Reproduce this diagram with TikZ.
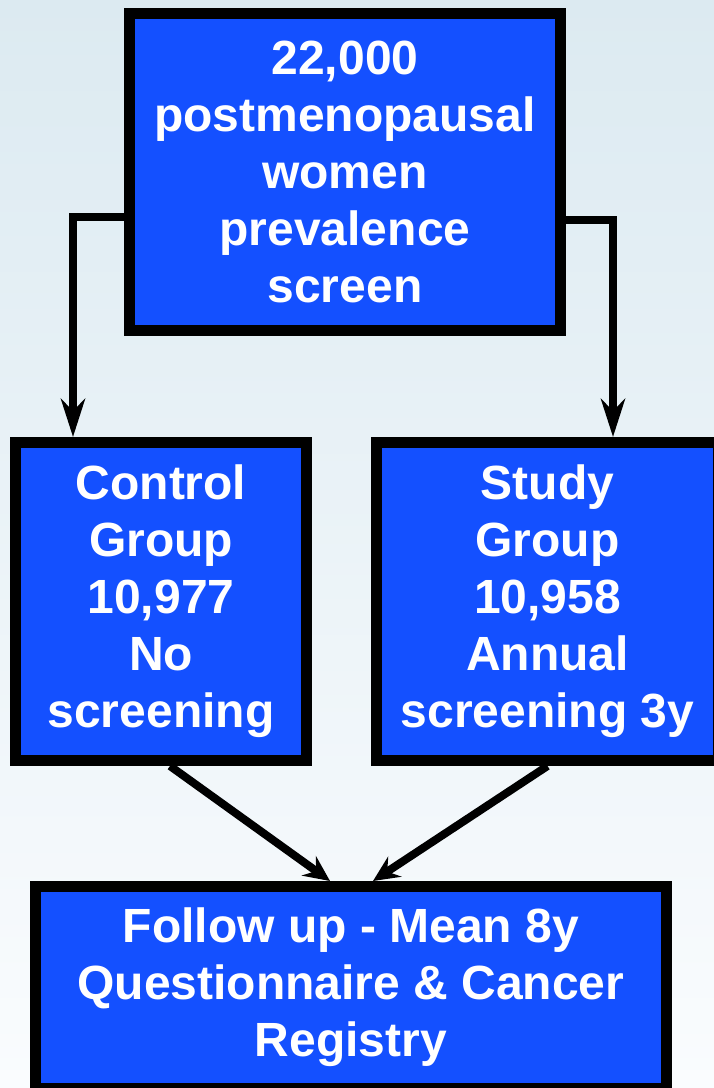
\documentclass[tikz,border=0pt]{standalone}
\usepackage{fontspec}
\setmainfont{Liberation Sans}
\usepackage{tikz}
\usetikzlibrary{
    arrows.meta,
    calc
}

\definecolor{boxblue}{RGB}{20,80,255}
\definecolor{bgtop}{RGB}{220,234,241}
\definecolor{bgbottom}{RGB}{250,252,254}

\tikzset{
    groupbox/.style={draw=black, line width=11pt, fill=boxblue, text=white,
        inner sep=0pt, align=center,
        font=\bfseries\fontsize{48}{57}\selectfont},
    arr/.style={line width=8pt, -{Stealth[length=26pt,width=24pt,inset=9pt]}}
}

\begin{document}
\begin{tikzpicture}[x=1pt,y=1pt]
\useasboundingbox (0,0) rectangle (714,1088);
\clip (0,0) rectangle (714,1088);
\shade[top color=bgtop, bottom color=bgbottom] (0,0) rectangle (714,1088);

\node[groupbox, minimum width=431pt, minimum height=317pt] (total) at (345,916)
    {22,000\\postmenopausal\\women\\prevalence\\screen};
\node[groupbox, minimum width=291pt, minimum height=318pt] (control) at (161,486.5)
    {Control\\Group\\10,977\\No\\screening};
\node[groupbox, minimum width=342pt, minimum height=318pt] (study) at (547.5,486.5)
    {Study\\Group\\10,958\\Annual\\screening 3y};
\node[groupbox, minimum width=631pt, minimum height=202pt] (follow) at (351,100.5)
    {Follow up - Mean 8y\\Questionnaire \& Cancer\\Registry};

\draw[arr, -{Stealth[length=38pt,width=24pt,inset=12pt]}]
    ([yshift=-45pt]total.west) -| ([xshift=-88pt]control.north);
\draw[arr, -{Stealth[length=38pt,width=24pt,inset=12pt]}]
    ([yshift=-48pt]total.east) -| ([xshift=65.5pt]study.north);

\draw[arr] ([xshift=9pt]control.south) -- ([xshift=-21pt]follow.north);
\draw[arr] (study.south) -- ([xshift=22pt]follow.north);
\end{tikzpicture}
\end{document}
